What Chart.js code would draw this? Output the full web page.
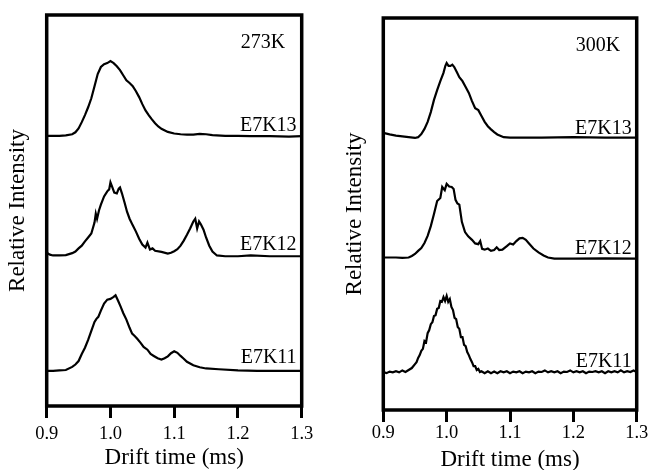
<!DOCTYPE html>
<html>
<head>
<meta charset="utf-8">
<script src="https://cdn.jsdelivr.net/npm/chart.js@4"></script>
<style>
  body { margin: 0; background: #fff; }
  canvas { position: absolute; top: 0; }
  #left { left: 0; }
  #right { left: 325px; }
</style>
</head>
<body>
<canvas id="left" width="325" height="470"></canvas>
<canvas id="right" width="326" height="470"></canvas>
<script>
// [drift time (ms), relative intensity] - traces stacked, baselines ~69 / ~39 / ~9

// 273K
const k273_e7k13 = [
  [0.9,69.1],[0.91,69.1],[0.92,69.1],[0.93,69.2],[0.94,69.5],[0.945,70.0],[0.95,71.0],[0.955,72.6],
  [0.96,74.4],[0.965,76.4],[0.97,78.7],[0.975,81.8],[0.98,84.9],[0.985,86.7],[0.99,87.4],[0.995,87.7],
  [1.0,88.2],[1.005,87.7],[1.01,86.9],[1.015,85.9],[1.02,84.6],[1.025,83.3],[1.03,82.6],[1.035,81.8],
  [1.04,80.5],[1.045,79.0],[1.05,77.2],[1.055,75.6],[1.06,74.4],[1.065,73.3],[1.07,72.3],[1.075,71.5],
  [1.08,70.9],[1.09,70.1],[1.1,69.7],[1.11,69.5],[1.12,69.4],[1.13,69.4],[1.14,69.6],[1.15,69.5],
  [1.16,69.3],[1.18,69.1],[1.2,69.1],[1.22,69.0],[1.25,69.0],[1.28,68.9],[1.3,69.0]
];
const k273_e7k12 = [
  [0.9,39.2],[0.905,38.7],[0.91,38.5],[0.92,38.5],[0.93,38.6],[0.94,39.1],[0.945,39.5],[0.95,40.3],
  [0.955,41.0],[0.96,42.1],[0.965,43.1],[0.97,44.1],[0.975,46.9],[0.977,49.2],[0.979,47.9],[0.982,50.0],
  [0.985,51.5],[0.99,53.6],[0.995,54.9],[0.998,55.4],[1.0,57.2],[1.003,55.9],[1.006,54.6],[1.01,54.4],
  [1.013,55.6],[1.015,55.9],[1.018,54.4],[1.022,52.1],[1.026,49.7],[1.03,47.9],[1.035,46.2],[1.04,44.6],
  [1.045,42.8],[1.05,41.3],[1.055,40.5],[1.058,41.8],[1.062,40.0],[1.066,40.3],[1.07,39.7],[1.08,39.4],
  [1.09,39.0],[1.095,39.2],[1.1,39.6],[1.105,40.1],[1.11,41.0],[1.115,42.3],[1.12,43.8],[1.125,45.4],
  [1.13,47.2],[1.133,47.9],[1.136,45.4],[1.139,47.2],[1.142,46.4],[1.146,45.1],[1.15,43.1],[1.155,41.0],
  [1.16,39.5],[1.167,38.5],[1.18,38.3],[1.2,38.3],[1.22,38.5],[1.25,38.3],[1.28,38.3],[1.3,38.3]
];
const k273_e7k11 = [
  [0.9,9.0],[0.91,9.0],[0.92,9.1],[0.93,9.2],[0.94,10.0],[0.945,10.6],[0.95,11.5],[0.955,13.3],
  [0.96,14.9],[0.965,16.9],[0.97,19.2],[0.975,21.5],[0.978,22.3],[0.981,22.8],[0.985,24.4],[0.99,26.2],
  [0.995,27.2],[1.0,27.4],[1.005,27.9],[1.008,28.3],[1.012,26.9],[1.016,25.4],[1.02,23.8],[1.025,22.1],
  [1.03,20.0],[1.034,18.5],[1.038,17.9],[1.042,17.2],[1.047,16.2],[1.052,15.1],[1.058,14.4],[1.063,13.3],
  [1.068,12.8],[1.074,12.2],[1.08,11.9],[1.085,12.2],[1.09,12.7],[1.095,13.5],[1.1,14.0],[1.105,13.6],
  [1.11,12.8],[1.115,12.1],[1.12,11.3],[1.13,10.4],[1.14,9.9],[1.15,9.6],[1.17,9.4],[1.2,9.1],
  [1.23,9.0],[1.26,9.0],[1.3,9.0]
];

// 300K
const k300_e7k13 = [
  [0.9,70.7],[0.91,70.3],[0.92,70.0],[0.93,69.8],[0.94,69.6],[0.95,69.4],[0.955,69.6],[0.96,70.4],
  [0.965,71.7],[0.97,73.5],[0.975,76.0],[0.98,79.1],[0.985,81.6],[0.99,83.9],[0.995,86.0],[0.998,87.8],
  [1.0,88.5],[1.003,87.8],[1.006,87.8],[1.009,88.1],[1.012,87.5],[1.016,86.2],[1.02,84.9],[1.025,83.9],
  [1.03,82.4],[1.035,80.9],[1.04,78.8],[1.045,77.0],[1.05,76.5],[1.055,75.0],[1.06,73.5],[1.065,72.4],
  [1.07,71.6],[1.075,70.9],[1.08,70.3],[1.09,69.6],[1.1,69.5],[1.15,69.5],[1.2,69.6],[1.25,69.5],[1.3,69.5]
];
const k300_e7k12 = [
  [0.9,38.9],[0.92,38.9],[0.93,38.8],[0.94,38.9],[0.945,39.3],[0.95,39.8],[0.955,40.6],[0.96,41.3],
  [0.965,42.6],[0.97,44.4],[0.975,46.9],[0.98,50.0],[0.985,53.3],[0.99,54.1],[0.993,56.9],[0.997,56.1],
  [1.0,57.7],[1.004,57.0],[1.008,56.9],[1.011,56.4],[1.014,53.6],[1.017,52.7],[1.02,52.4],[1.024,48.0],
  [1.029,45.4],[1.034,44.3],[1.04,43.4],[1.045,42.5],[1.05,42.3],[1.053,43.1],[1.056,41.1],[1.06,40.9],
  [1.065,41.2],[1.07,40.6],[1.075,40.8],[1.079,41.5],[1.083,40.8],[1.088,40.9],[1.095,41.8],[1.1,42.5],
  [1.105,42.2],[1.11,43.1],[1.115,43.8],[1.12,43.9],[1.125,43.4],[1.13,42.5],[1.137,41.2],[1.145,40.2],
  [1.153,39.4],[1.16,38.9],[1.17,38.6],[1.2,38.6],[1.25,38.7],[1.3,38.6]
];
const k300_e7k11 = [
  [0.9,9.7],[0.905,9.4],[0.91,9.8],[0.915,9.6],[0.92,9.9],[0.925,9.6],[0.93,10.1],[0.935,9.7],
  [0.94,10.2],[0.945,10.7],[0.95,11.7],[0.9525,12.2],[0.955,13.3],[0.9575,14.0],[0.96,15.1],[0.9625,15.6],
  [0.965,17.6],[0.9675,17.3],[0.97,19.6],[0.9725,20.4],[0.975,21.9],[0.9775,22.4],[0.98,24.0],[0.9825,24.2],
  [0.985,25.8],[0.9875,26.0],[0.99,27.8],[0.9925,27.6],[0.995,28.8],[0.9975,27.8],[1.0,29.1],[1.0025,27.6],
  [1.005,28.3],[1.0075,26.3],[1.01,25.5],[1.0125,23.5],[1.015,23.2],[1.0175,21.2],[1.02,20.7],[1.0225,18.6],
  [1.025,18.6],[1.0275,16.6],[1.03,16.3],[1.0325,14.8],[1.035,14.0],[1.0375,13.0],[1.04,12.2],[1.0425,11.2],
  [1.045,11.2],[1.0475,10.2],[1.05,10.5],[1.0525,9.7],[1.055,9.9],[1.06,9.4],[1.065,9.9],[1.07,9.4],
  [1.075,9.8],[1.08,9.4],[1.085,9.9],[1.09,9.6],[1.095,9.9],[1.1,9.4],[1.105,9.8],[1.11,9.6],
  [1.115,9.9],[1.12,9.4],[1.125,9.8],[1.13,9.6],[1.135,9.9],[1.14,9.4],[1.145,9.8],[1.15,9.7],
  [1.155,10.1],[1.16,9.6],[1.165,9.9],[1.17,9.6],[1.175,9.9],[1.18,9.4],[1.185,9.8],[1.19,9.7],
  [1.195,10.1],[1.2,9.6],[1.205,9.9],[1.21,9.6],[1.215,9.9],[1.22,9.4],[1.225,9.8],[1.23,9.7],
  [1.235,9.9],[1.24,9.6],[1.245,9.9],[1.25,9.4],[1.255,9.9],[1.26,9.6],[1.265,9.9],[1.27,9.6],
  [1.275,10.1],[1.28,9.6],[1.285,9.9],[1.29,9.7],[1.295,10.1],[1.3,9.7]
];

const xTicks = [0.9, 1.0, 1.1, 1.2, 1.3];
const traceNames = ['E7K13', 'E7K12', 'E7K11'];

const SERIF = '"Liberation Serif", "Times New Roman", serif';

// box round the plot + the text labels inside it
const framePlugin = {
  id: 'frame',
  afterDraw(chart, args, opts) {
    const { ctx, chartArea: a, scales } = chart;
    ctx.save();
    ctx.lineWidth = 3.5;
    ctx.strokeStyle = '#000';
    ctx.strokeRect(a.left, a.top, a.right - a.left, a.bottom - a.top);
    ctx.fillStyle = '#000';
    ctx.font = '20px ' + SERIF;
    ctx.textAlign = 'right';
    ctx.textBaseline = 'alphabetic';
    opts.labels.forEach(l => {
      ctx.fillText(l.text, scales.x.getPixelForValue(l.x), scales.y.getPixelForValue(l.y));
    });
    ctx.restore();
  }
};

function toPts(arr) {
  return arr.map(p => ({ x: p[0], y: p[1] }));
}

// g: axis sizes for one panel
function makeChart(id, temp, traces, g) {
  new Chart(document.getElementById(id), {
    type: 'line',
    data: {
      datasets: traces.map((t, i) => ({
        label: traceNames[i],
        data: toPts(t),
        borderColor: '#000',
        borderWidth: 2.2,
        pointRadius: 0,
        tension: 0,
        fill: false
      }))
    },
    options: {
      responsive: false,
      animation: false,
      layout: { padding: { left: 0, right: g.right, top: g.top, bottom: 0 } },
      scales: {
        x: {
          type: 'linear',
          min: 0.9,
          max: 1.3,
          afterBuildTicks: s => { s.ticks = xTicks.map(v => ({ value: v })); },
          afterFit: s => { s.height = g.xHeight; s.paddingLeft = 0; s.paddingRight = 0; },
          ticks: {
            color: '#000',
            padding: g.tickPad,
            maxRotation: 0,
            font: { family: SERIF, size: 18.5, lineHeight: 1.0 },
            callback: v => v.toFixed(1)
          },
          grid: {
            drawOnChartArea: false,
            drawTicks: true,
            tickLength: 12,
            color: '#000',
            lineWidth: 3
          },
          border: { display: false },
          title: {
            display: true,
            text: 'Drift time (ms)',
            color: '#000',
            font: { family: SERIF, size: 23, lineHeight: 1.0 },
            padding: { top: 0, bottom: g.xTitleBottom }
          }
        },
        y: {
          min: 0,
          max: 100,
          afterFit: s => { s.width = g.yWidth; s.paddingTop = 0; s.paddingBottom = 0; },
          ticks: { display: false },
          grid: { display: false },
          border: { display: false },
          title: {
            display: true,
            text: 'Relative Intensity',
            color: '#000',
            font: { family: SERIF, size: 23 },
            padding: { top: g.yTitleTop, bottom: 0 }
          }
        }
      },
      plugins: {
        legend: { display: false },
        tooltip: { enabled: false },
        frame: {
          labels: [
            { text: temp, x: 1.274, y: 91.6 },
            { text: traceNames[0], x: 1.292, y: 70.4 },
            { text: traceNames[1], x: 1.292, y: 39.8 },
            { text: traceNames[2], x: 1.292, y: 11.0 }
          ]
        }
      }
    },
    plugins: [framePlugin]
  });
}

makeChart('left', '273K', [k273_e7k13, k273_e7k12, k273_e7k11],
  { right: 23.3, top: 15, xHeight: 64, yWidth: 46.7, tickPad: 7, xTitleBottom: 0.5, yTitleTop: 4.2 });
makeChart('right', '300K', [k300_e7k13, k300_e7k12, k300_e7k11],
  { right: 14.3, top: 18, xHeight: 60, yWidth: 58.3, tickPad: 2, xTitleBottom: -1.5, yTitleTop: 16.2 });
</script>
</body>
</html>
